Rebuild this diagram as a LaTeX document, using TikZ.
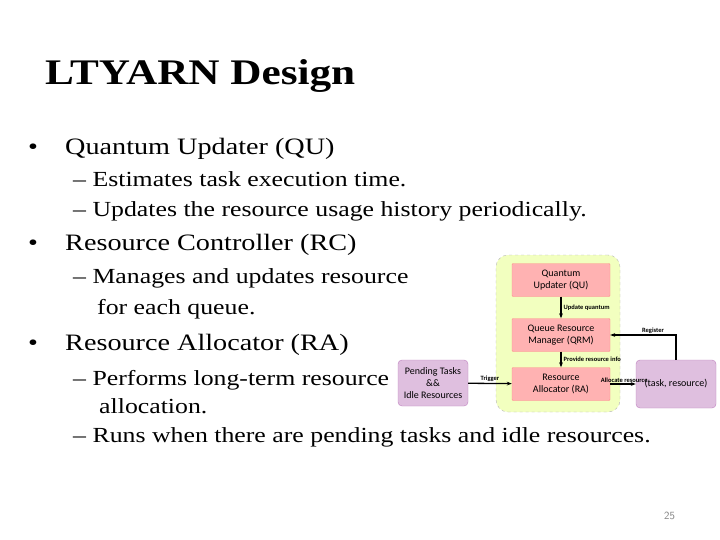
\documentclass[tikz,border=0pt]{standalone}
\usepackage{fontspec}
\setmainfont{Liberation Serif}[FakeStretch=1.2]
\newfontfamily\diag{Carlito}
\usetikzlibrary{arrows.meta}
\begin{document}
\begin{tikzpicture}[x=1pt,y=-1pt,
  txt/.style={anchor=base west,inner sep=0pt},
  l1/.style={txt,font=\fontsize{23.5}{26}\selectfont},
  l2/.style={txt,font=\fontsize{21.5}{24}\selectfont},
  redbox/.style={draw=red!45,fill=red!30,rounded corners=1pt,align=center,font=\diag\fontsize{10}{12}\selectfont,minimum width=98pt,minimum height=33pt,inner sep=1pt},
  purpbox/.style={draw=violet!50,fill=violet!25,rounded corners=4pt,align=center,font=\diag\fontsize{10}{12}\selectfont,inner sep=1pt},
  lab/.style={font=\diag\bfseries\fontsize{6.5}{7}\selectfont,inner sep=1pt},
  arr/.style={-{Stealth[length=5pt]},line width=1.3pt}]
\useasboundingbox (0,0) rectangle (720,540);
\node[txt,font=\fontsize{36}{40}\selectfont\bfseries] (title) at (45,85) {LTYARN Design};
\node[txt,font=\fontsize{23.5}{26}\selectfont] (d1) at (28,155) {•};
\node[l1] (b1) at (65,155) {Quantum Updater (QU)};
\node[l2] (s1) at (73,187) {– Estimates task execution time.};
\node[l2] (s2) at (73,216) {– Updates the resource usage history periodically.};
\node[txt,font=\fontsize{23.5}{26}\selectfont] (d2) at (28,250) {•};
\node[l1] (b2) at (65,250) {Resource Controller (RC)};
\node[l2] (s3) at (73,283) {– Manages and updates resource};
\node[l2] (s3b) at (97,314) {for each queue.};
\node[txt,font=\fontsize{23.5}{26}\selectfont] (d3) at (28,350) {•};
\node[l1] (b3) at (65,350) {Resource Allocator (RA)};
\node[l2] (s4) at (73,385) {– Performs long-term resource};
\node[l2] (s4b) at (99,413) {allocation.};
\node[l2] (s5) at (73,442) {– Runs when there are pending tasks and idle resources.};
\node[txt,font=\sffamily\fontsize{11}{12}\selectfont,text=gray] (pg) at (664,519) {25};
% diagram
\node[draw=gray!60,dashed,fill=green!20!yellow!25,rounded corners=12pt,minimum width=124pt,minimum height=157pt] (grp) at (558,333.5) {};
\node[redbox] (qu) at (561,280) {Quantum\\Updater (QU)};
\node[redbox] (qrm) at (561,335) {Queue Resource\\Manager (QRM)};
\node[redbox] (ra) at (561,384) {Resource\\Allocator (RA)};
\node[purpbox,minimum width=70pt,minimum height=46pt] (pt) at (433,383) {Pending Tasks\\\&\&\\Idle Resources};
\node[purpbox,minimum width=80pt,minimum height=48pt] (tr) at (676,384) {(task, resource)};
\draw[arr] (qu) -- node[lab,right,xshift=1pt] {Update quantum} (qrm);
\draw[arr] (qrm) -- node[lab,right,xshift=1pt] {Provide resource info} (ra);
\draw[arr] (pt) -- node[lab,above] {Trigger} (ra);
\draw[arr] (ra) -- node[lab,above,pos=0.55] {Allocate resource} (tr);
\draw[arr] (tr.north) -- (tr.north|-qrm.east) -- node[lab,above,pos=0.35] {Register} (qrm.east);
\end{tikzpicture}
\end{document}
